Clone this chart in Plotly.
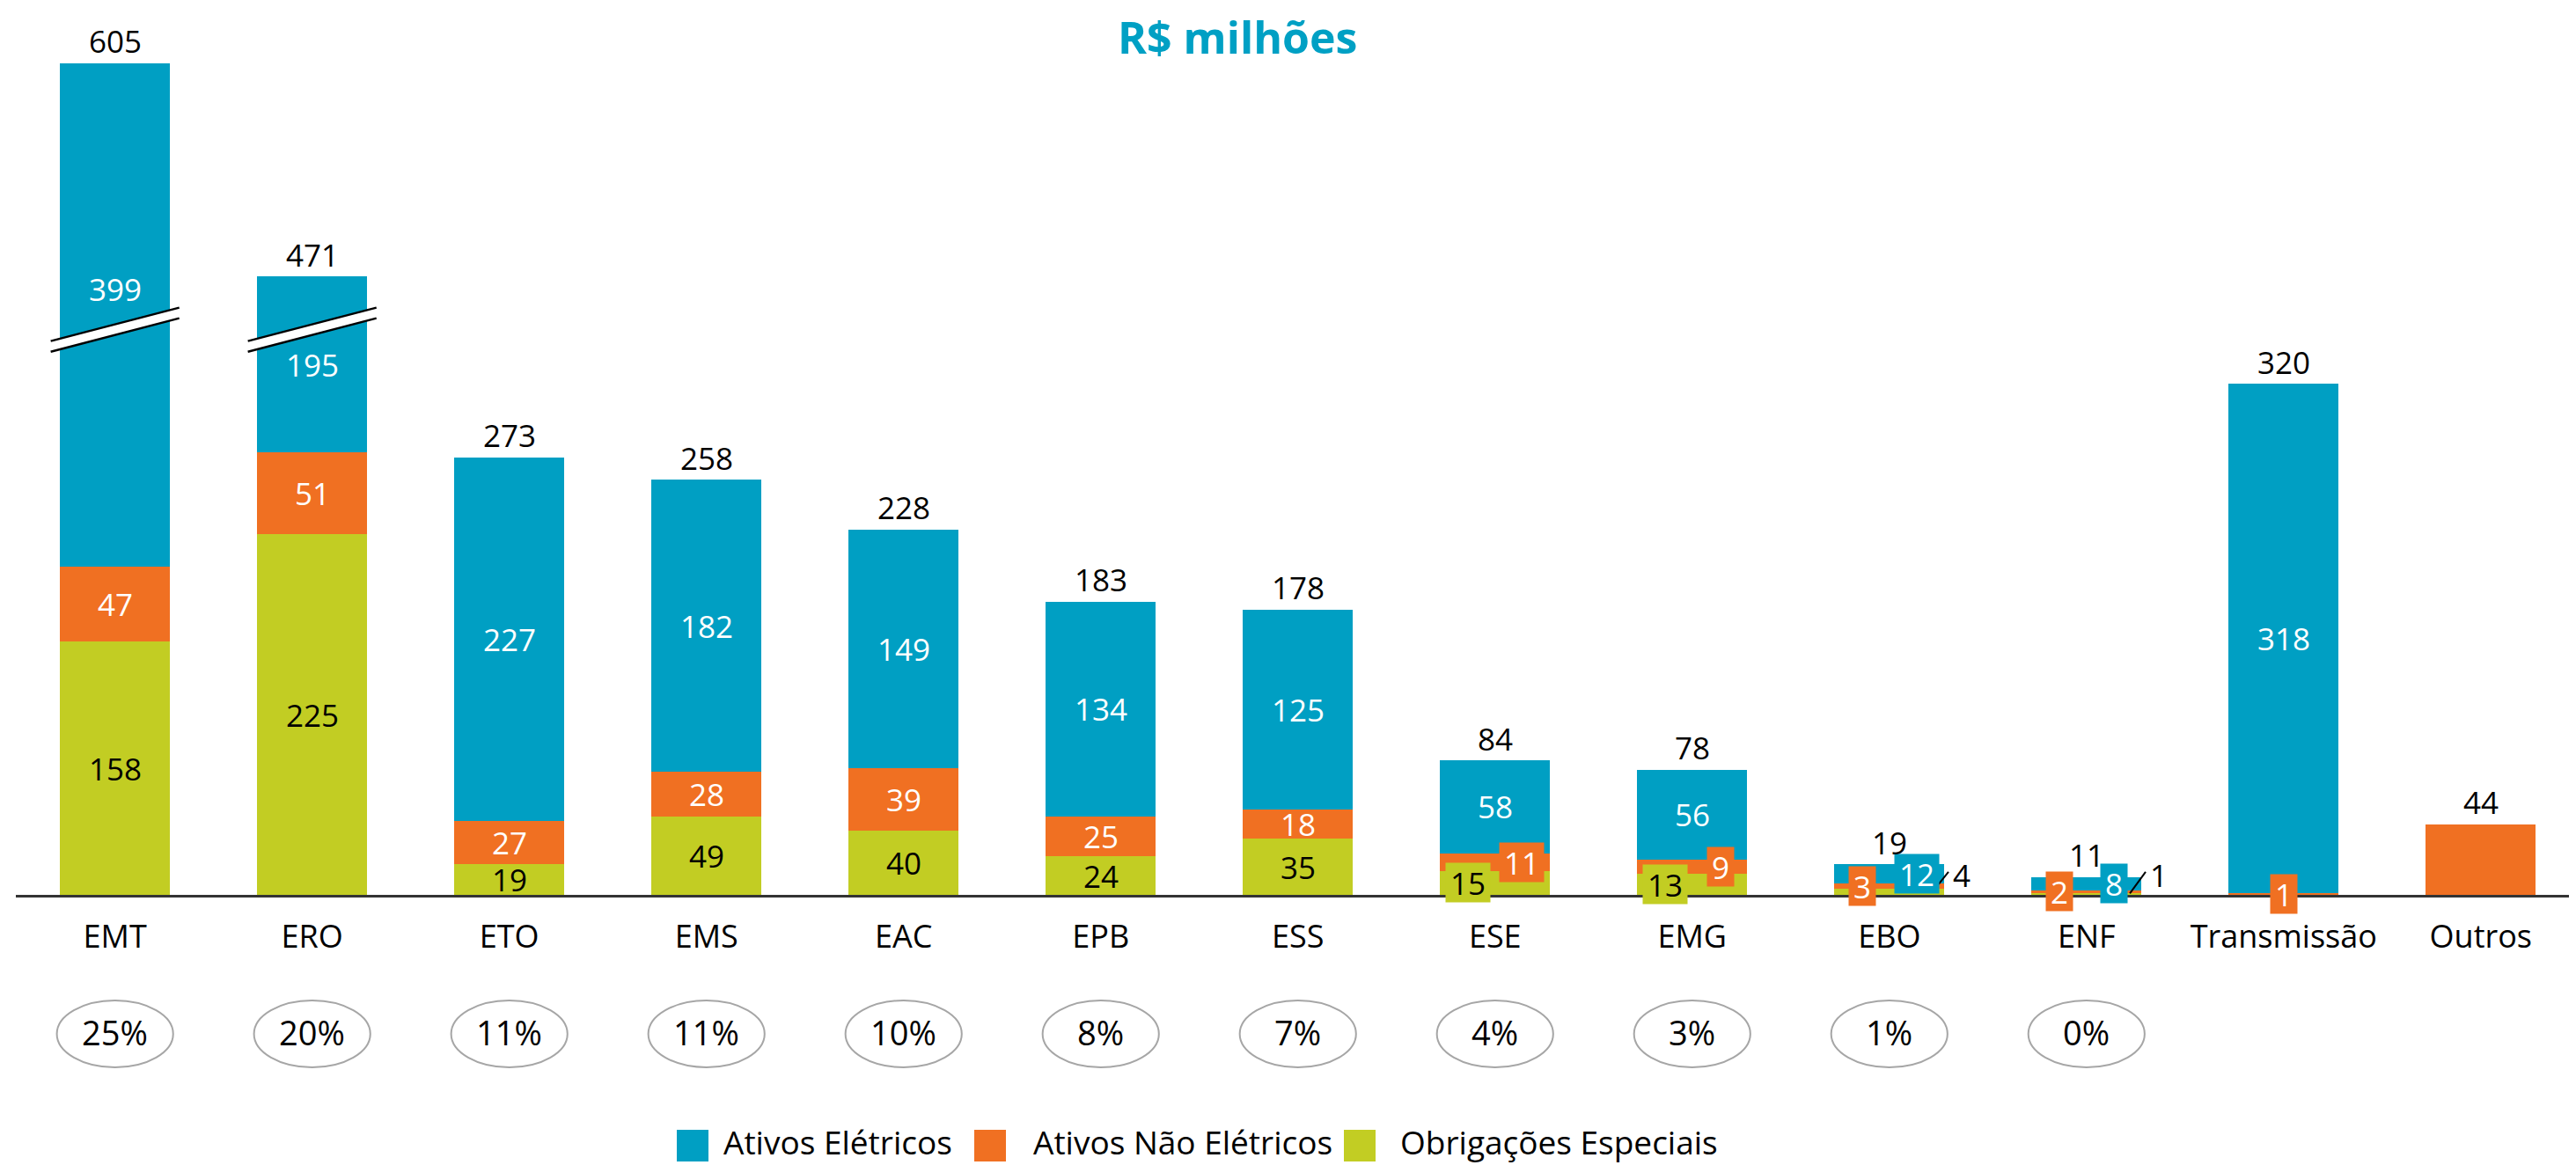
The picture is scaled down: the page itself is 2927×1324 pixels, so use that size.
import plotly.graph_objects as go

# ---------------- data ----------------
categorias = ["EMT", "ERO", "ETO", "EMS", "EAC", "EPB", "ESS", "ESE", "EMG",
              "EBO", "ENF", "Transmissão", "Outros"]
ativos_eletricos = [399, 195, 227, 182, 149, 134, 125, 58, 56, 12, 8, 318, 0]
ativos_nao_eletricos = [47, 51, 27, 28, 39, 25, 18, 11, 9, 3, 2, 1, 44]
obrigacoes_especiais = [158, 225, 19, 49, 40, 24, 35, 15, 13, 4, 1, 0, 0]
totais = [605, 471, 273, 258, 228, 183, 178, 84, 78, 19, 11, 320, 44]
participacao = ["25%", "20%", "11%", "11%", "10%", "8%", "7%", "4%", "3%",
                "1%", "0%", None, None]
# amount of "Ativos Elétricos" hidden by the broken axis (R$ milhões)
corte_eixo = [85, 85, 0, 0, 0, 0, 0, 0, 0, 0, 0, 0, 0]

series_nomes = ["Ativos Elétricos", "Ativos Não Elétricos", "Obrigações Especiais"]

# ---------------- styles ----------------
AZUL = "#009FC3"
LARANJA = "#F07022"
VERDE = "#C2CD23"
FONT_NUM = "Open Sans"
FONT_TXT = "Open Sans"
FS = 35

OFF = 8                       # page body margin
W, H = 2927 - OFF, 1324 - OFF
PL, PR, PT, PB = 18, 2927, 30, 1017   # plot area in page pixels
YMAX = 542
BAR_W = 0.558


def px_x(px):
    return (px - PL) / (PR - PL)


def px_y(py):
    return (PB - py) / (PB - PT)


n = len(categorias)
eletricos_vis = [v - c for v, c in zip(ativos_eletricos, corte_eixo)]
topo_vis = [a + b + c for a, b, c in zip(obrigacoes_especiais, ativos_nao_eletricos, eletricos_vis)]

fig = go.Figure()
fig.add_bar(x=categorias, y=obrigacoes_especiais, name=series_nomes[2],
            marker=dict(color=VERDE, line=dict(width=0)), width=BAR_W,
            customdata=obrigacoes_especiais, hovertemplate="%{x}: %{customdata}<extra>" + series_nomes[2] + "</extra>")
fig.add_bar(x=categorias, y=ativos_nao_eletricos, name=series_nomes[1],
            marker=dict(color=LARANJA, line=dict(width=0)), width=BAR_W,
            customdata=ativos_nao_eletricos, hovertemplate="%{x}: %{customdata}<extra>" + series_nomes[1] + "</extra>")
fig.add_bar(x=categorias, y=eletricos_vis, name=series_nomes[0],
            marker=dict(color=AZUL, line=dict(width=0)), width=BAR_W,
            customdata=ativos_eletricos, hovertemplate="%{x}: %{customdata}<extra>" + series_nomes[0] + "</extra>")

annotations = []
shapes = []

# boxed labels for thin segments: (category, series) -> horizontal offset
destaque = {
    ("ESE", "nao"): 0.136, ("ESE", "obr"): -0.136,
    ("EMG", "nao"): 0.143, ("EMG", "obr"): -0.138,
    ("EBO", "nao"): -0.138, ("EBO", "ele"): 0.14,
    ("ENF", "nao"): -0.138, ("ENF", "ele"): 0.14,
    ("Transmissão", "nao"): 0.0,
}
# labels placed outside with a leader line
externos = {("EBO", "obr"): (0.25, 6.6), ("ENF", "obr"): (0.22, 0.9)}
ajuste_y = {("EMT", "ele"): 16}

for i, cat in enumerate(categorias):
    base = 0
    segs = [("obr", obrigacoes_especiais[i], obrigacoes_especiais[i], VERDE, "black"),
            ("nao", ativos_nao_eletricos[i], ativos_nao_eletricos[i], LARANJA, "white"),
            ("ele", eletricos_vis[i], ativos_eletricos[i], AZUL, "white")]
    nz = sum(1 for s in segs if s[2] > 0)
    for key, h, val, col, tcol in segs:
        if val <= 0 or nz < 2:
            base += h
            continue
        yc = base + h / 2 + ajuste_y.get((cat, key), 0)
        if (cat, key) in externos:
            x0, y0 = externos[(cat, key)]
            shapes.append(dict(type="line", xref="x", yref="y", x0=i + x0, y0=y0,
                               x1=i + 0.30, y1=14.3, line=dict(color="black", width=2)))
            annotations.append(dict(x=i + 0.365, y=12.5, xref="x", yref="y", text=str(val),
                                    showarrow=False, xanchor="center", yanchor="middle",
                                    font=dict(family=FONT_NUM, size=FS, color="black")))
        elif (cat, key) in destaque:
            annotations.append(dict(x=i + destaque[(cat, key)], y=yc, xref="x", yref="y",
                                    text=str(val), showarrow=False, bgcolor=col, borderpad=0,
                                    width=10 + 20 * len(str(val)), height=44,
                                    xanchor="center", yanchor="middle",
                                    font=dict(family=FONT_NUM, size=FS, color=tcol)))
        else:
            annotations.append(dict(x=i, y=yc, xref="x", yref="y", text=str(val),
                                    showarrow=False, xanchor="center", yanchor="middle",
                                    font=dict(family=FONT_NUM, size=FS, color=tcol)))
        base += h
    # total above the bar
    annotations.append(dict(x=i, y=topo_vis[i], xref="x", yref="y", text=str(totais[i]),
                            yshift=25, showarrow=False, xanchor="center", yanchor="middle",
                            font=dict(family=FONT_NUM, size=FS, color="black")))
    # share ellipse
    if participacao[i]:
        shapes.append(dict(type="circle", xref="x", yref="paper",
                           x0=i - 0.295, x1=i + 0.295, y0=px_y(1213), y1=px_y(1137),
                           line=dict(color="#A6A6A6", width=2), fillcolor="rgba(0,0,0,0)"))
        annotations.append(dict(x=i, y=px_y(1173), xref="x", yref="paper", text=participacao[i],
                                showarrow=False, xanchor="center", yanchor="middle",
                                font=dict(family=FONT_TXT, size=38, color="black")))
    # axis break
    if corte_eixo[i] > 0:
        Y, g, r, hw = 352.75, 3.3, 10.45, 0.326
        xl, xr = i - hw, i + hw
        shapes.append(dict(type="path", xref="x", yref="y",
                           path=f"M{xl},{Y - g - r} L{xr},{Y - g + r} L{xr},{Y + g + r} L{xl},{Y + g - r} Z",
                           fillcolor="white", line=dict(width=0)))
        for s in (-g, g):
            shapes.append(dict(type="line", xref="x", yref="y", x0=xl, y0=Y + s - r,
                               x1=xr, y1=Y + s + r, line=dict(color="black", width=2.5)))

# title
annotations.append(dict(x=px_x(1406), y=px_y(42), xref="paper", yref="paper",
                        text="<b>R$ milhões</b>", showarrow=False,
                        xanchor="center", yanchor="middle",
                        font=dict(family=FONT_NUM, size=50, color="#00A0C4")))

# legend (drawn manually to get large swatches)
leg = [(769, 820, AZUL, series_nomes[0]), (1107, 1172, LARANJA, series_nomes[1]),
       (1527, 1589, VERDE, series_nomes[2])]
for sx, tx, col, name in leg:
    shapes.append(dict(type="rect", xref="paper", yref="paper",
                       x0=px_x(sx), x1=px_x(sx + 36), y0=px_y(1320), y1=px_y(1284),
                       fillcolor=col, line=dict(width=0)))
    annotations.append(dict(x=px_x(tx), y=px_y(1297), xref="paper", yref="paper",
                            xanchor="left", yanchor="middle", text=name, showarrow=False,
                            font=dict(family=FONT_TXT, size=37, color="black")))

fig.update_layout(
    width=W, height=H,
    barmode="stack",
    showlegend=False,
    plot_bgcolor="white", paper_bgcolor="white",
    margin=dict(l=PL - OFF, r=0, t=PT - OFF, b=H - (PB - OFF), pad=0, autoexpand=False),
    xaxis=dict(type="category", range=[-0.503, 12.483], showline=True,
               linecolor="#333333", linewidth=2.5, ticks="", showgrid=False,
               tickfont=dict(family=FONT_TXT, size=36, color="black"),
               ticklabelstandoff=14),
    yaxis=dict(range=[0, YMAX], visible=False, showgrid=False, zeroline=False),
    annotations=annotations,
    shapes=shapes,
)

fig.write_html("out.html")
